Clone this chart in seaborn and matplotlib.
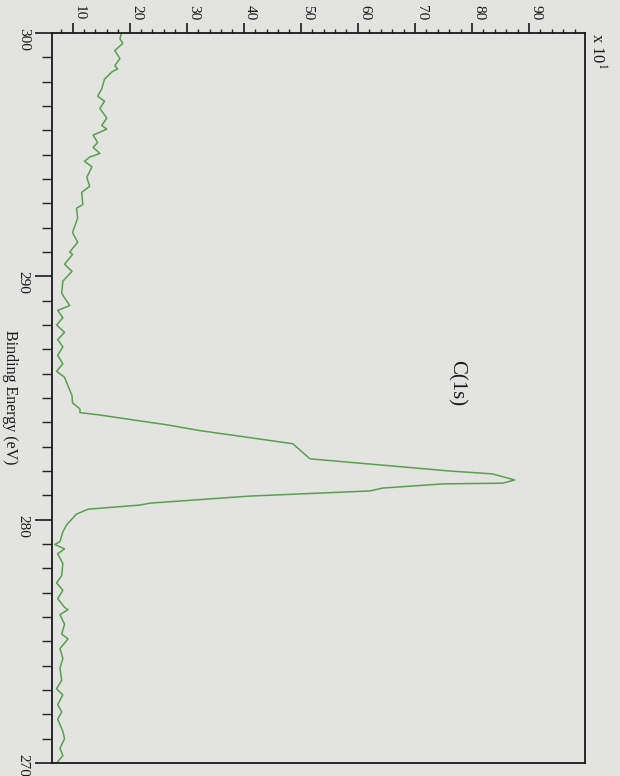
import matplotlib
matplotlib.use("Agg")
import matplotlib.pyplot as plt
from matplotlib.ticker import MultipleLocator
from matplotlib.transforms import ScaledTranslation
import pandas as pd
import seaborn as sns

# XPS C(1s) spectrum (intensity in units of x10)
binding_energy = [
    300.0, 299.77, 299.57, 299.28, 298.95, 298.66, 298.53, 298.4, 298.1, 297.7,
    297.4, 297.2, 296.9, 296.5, 296.2, 296.05, 295.8, 295.5, 295.3, 295.05,
    294.9, 294.73, 294.5, 294.07, 293.7, 293.45, 292.95, 292.8, 292.4, 291.8,
    291.4, 291.0, 290.9, 290.5, 290.2, 289.8, 289.3, 288.8, 288.6, 288.3,
    288.0, 287.7, 287.4, 287.1, 286.75, 286.4, 286.1, 285.85, 285.5, 285.1,
    284.8, 284.55, 284.4, 284.3, 284.1, 283.9, 283.66, 283.37, 283.12, 282.5,
    282.0, 281.88, 281.63, 281.5, 281.47, 281.3, 281.18, 280.97, 280.68, 280.6,
    280.43, 280.23, 279.8, 279.5, 279.1, 278.98, 278.8, 278.6, 278.2, 277.7,
    277.4, 277.1, 276.75, 276.4, 276.3, 276.1, 275.7, 275.3, 275.1, 274.7,
    274.3, 273.9, 273.4, 273.05, 272.8, 272.4, 272.1, 271.8, 271.3, 271.0,
    270.6, 270.3, 270.0,
]
intensity = [
    18.6, 18.3, 18.8, 17.4, 18.3, 17.4, 17.9, 16.9, 15.6, 15.1,
    14.4, 15.6, 14.8, 16.0, 15.1, 16.0, 13.6, 14.4, 13.6, 14.8,
    13.0, 12.1, 13.4, 12.5, 13.0, 11.6, 11.8, 10.7, 10.9, 10.0,
    10.9, 9.5, 10.0, 8.6, 9.9, 8.3, 8.1, 9.5, 7.4, 8.3,
    7.2, 8.6, 7.4, 8.3, 7.4, 8.3, 7.2, 8.6, 9.2, 9.9,
    10.0, 11.3, 11.3, 14.8, 20.6, 26.5, 32.3, 41.1, 48.6, 51.6,
    76.1, 83.6, 87.5, 85.4, 74.9, 64.4, 62.1, 41.1, 23.6, 21.8,
    12.7, 10.7, 9.0, 8.3, 7.8, 6.9, 8.6, 7.4, 8.3, 8.1,
    7.2, 8.3, 7.4, 8.6, 9.2, 7.8, 8.6, 8.1, 9.2, 7.8,
    8.3, 7.8, 8.1, 7.2, 8.3, 7.4, 8.1, 7.4, 8.3, 8.6,
    7.8, 8.3, 7.2,
]
x_ticks = [10, 20, 30, 40, 50, 60, 70, 80, 90]
y_ticks = [300, 290, 280, 270]

df = pd.DataFrame({"Binding Energy": binding_energy, "Counts": intensity})

bg = "#e3e3e1"
sns.set_style("ticks")
plt.rcParams["font.family"] = ["Liberation Serif", "DejaVu Serif"]
plt.rcParams["mathtext.fontset"] = "stix"

fig = plt.figure(figsize=(6.2, 7.76), dpi=100, facecolor=bg)
ax = fig.add_axes([52 / 620, 1 - 763 / 776, 533 / 620, 730 / 776])
ax.set_facecolor(bg)

# the scan is rotated: intensity runs across, binding energy runs down
sns.lineplot(data=df, x="Counts", y="Binding Energy", sort=False, estimator=None,
             color="#5a9e50", linewidth=1.1, ax=ax)

ax.set_xlim(6.4, 99.8)
ax.set_ylim(270, 300)
ax.set_xlabel("")
ax.set_ylabel("")

for s in ax.spines.values():
    s.set_visible(True)
    s.set_color("#1a1a1a")
    s.set_linewidth(1.3)

ax.xaxis.tick_top()
ax.set_xticks(x_ticks)
ax.set_yticks(y_ticks)
ax.xaxis.set_minor_locator(MultipleLocator(2))
ax.yaxis.set_minor_locator(MultipleLocator(1))

ax.tick_params(axis="x", which="major", direction="out", length=7, width=1.2,
               top=True, bottom=False, labeltop=True, labelbottom=False,
               labelrotation=-90, labelsize=11, pad=2, colors="#1a1a1a")
ax.tick_params(axis="x", which="minor", direction="out", length=3, width=1.0,
               top=True, bottom=False)
ax.tick_params(axis="y", which="major", direction="out", length=12, width=1.2,
               left=True, right=False, labelrotation=-90, labelsize=11, pad=4,
               colors="#1a1a1a")
ax.tick_params(axis="y", which="minor", direction="out", length=7, width=1.0,
               left=True, right=False)

# labels sit a little right of their ticks in the scan
shift = ScaledTranslation(7 / 100, 0, fig.dpi_scale_trans)
for lab in ax.get_xticklabels():
    lab.set_transform(lab.get_transform() + shift)

# keep the bottom "270" inside the page
up = ScaledTranslation(0, 4 / 100, fig.dpi_scale_trans)
ylabs = ax.get_yticklabels()
ylabs[-1].set_transform(ylabs[-1].get_transform() + up)

ax.text(77.3, 285.6, "C(1s)", rotation=-90, ha="center", va="center",
        fontsize=15, color="#1a1a1a")
fig.text(10 / 620, 1 - 397 / 776, "Binding Energy (eV)", rotation=-90,
         ha="center", va="center", fontsize=11.5, color="#1a1a1a")
fig.text(587 / 620, 1 - 33 / 776, r"x 10$^1$", rotation=-90,
         ha="left", va="top", fontsize=12, color="#1a1a1a")

fig.savefig("out.png", dpi=100, facecolor=bg)
